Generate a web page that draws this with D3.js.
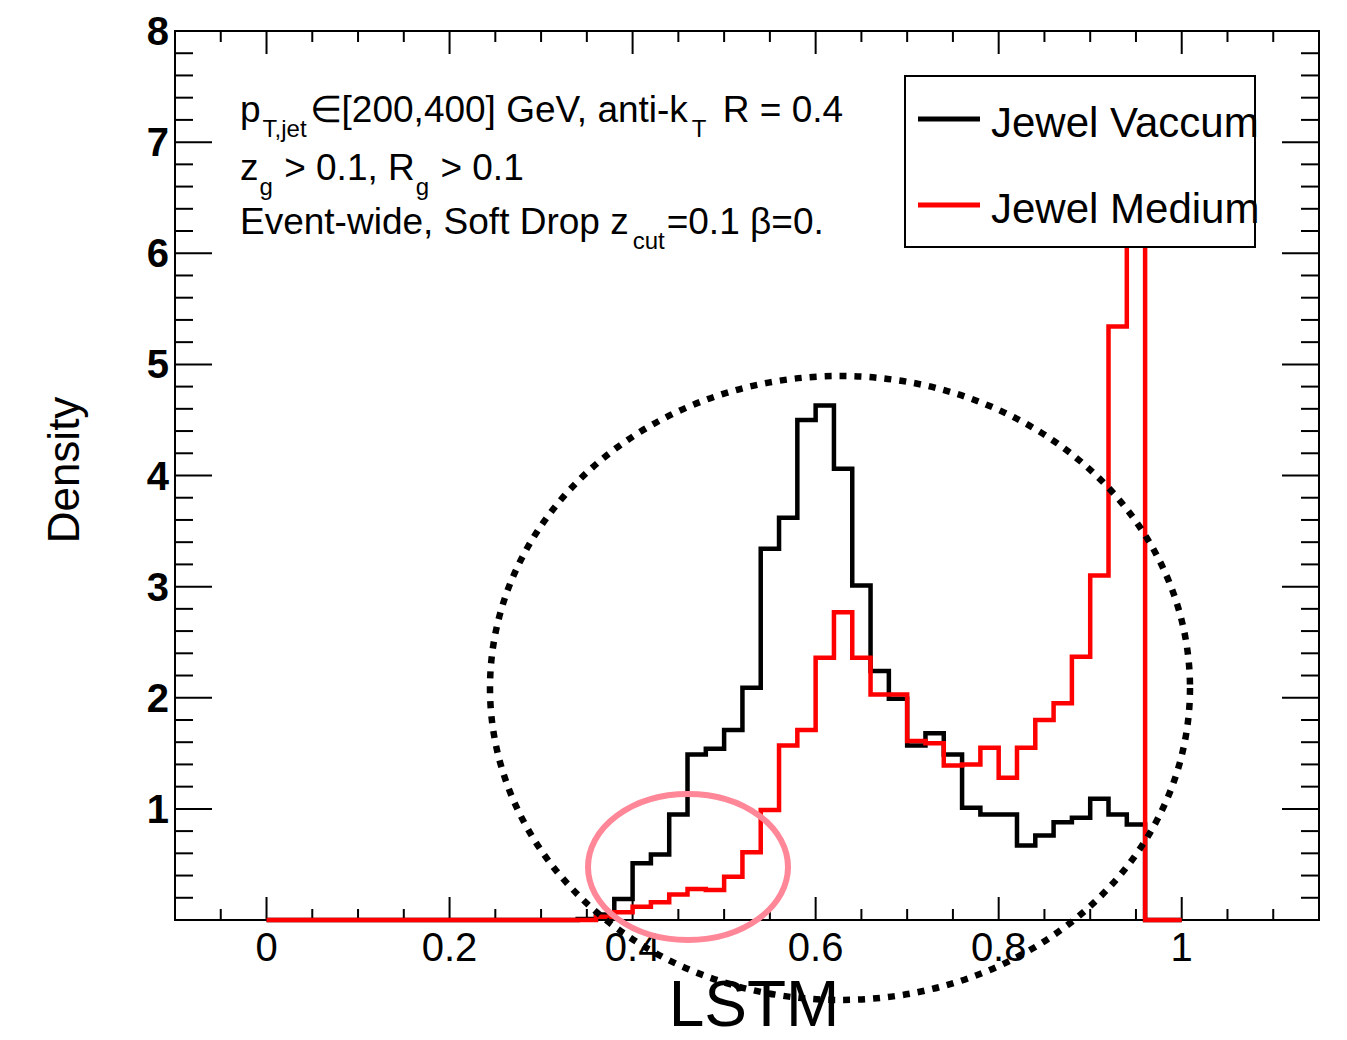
<!DOCTYPE html>
<html>
<head>
<meta charset="utf-8">
<script src="https://cdn.jsdelivr.net/npm/d3@7"></script>
<style>
  html, body { margin: 0; padding: 0; background: #fff; }
  svg { display: block; }
  text { font-family: "Liberation Sans", Arial, Helvetica, sans-serif; fill: #000; white-space: pre; }
</style>
</head>
<body>
<svg id="chart" width="1347" height="1040"></svg>
<script>
// LSTM output distributions, normalised to unit area (50 bins of width 0.02 on [0,1])
const binWidth = 0.02;
const binLow = d3.range(50).map(i => +(i * binWidth).toFixed(2));

const jewelVacuum = [
  0, 0, 0, 0, 0, 0, 0, 0, 0, 0,
  0, 0, 0, 0, 0, 0, 0, 0.01, 0.05, 0.19,
  0.51, 0.59, 0.95, 1.49, 1.54, 1.71, 2.09, 3.34, 3.62, 4.50,
  4.63, 4.06, 3.01, 2.24, 1.99, 1.57, 1.68, 1.49, 1.01, 0.95,
  0.95, 0.67, 0.76, 0.88, 0.92, 1.09, 0.95, 0.86, 0, 0
];

const jewelMedium = [
  0, 0, 0, 0, 0, 0, 0, 0, 0, 0,
  0, 0, 0, 0, 0, 0, 0, 0, 0.03, 0.07,
  0.12, 0.16, 0.23, 0.28, 0.27, 0.39, 0.61, 0.99, 1.57, 1.71,
  2.36, 2.77, 2.36, 2.03, 2.03, 1.61, 1.59, 1.39, 1.40, 1.55,
  1.28, 1.55, 1.80, 1.95, 2.37, 3.10, 5.34, 7.20, 0, 0
];

const xTickValues = [0, 0.2, 0.4, 0.6, 0.8, 1];
const xTickLabels = ["0", "0.2", "0.4", "0.6", "0.8", "1"];
const yTickValues = [1, 2, 3, 4, 5, 6, 7, 8];
const yTickLabels = ["1", "2", "3", "4", "5", "6", "7", "8"];

const seriesNames = ["Jewel Vaccum", "Jewel Medium"];
const seriesColors = ["#000000", "#ff0000"];

// ---- frame geometry ----
const frame = { left: 175, right: 1319, top: 31, bottom: 920 };
const svg = d3.select("#chart");

const x = d3.scaleLinear().domain([-0.1, 1.15]).range([frame.left, frame.right]);
const y = d3.scaleLinear().domain([0, 8]).range([frame.bottom, frame.top]);

const xMinor = d3.range(-0.1, 1.1501, 0.05).map(v => +v.toFixed(2));
const yMinor = d3.range(0, 8.001, 0.2).map(v => +v.toFixed(2));

// ---- axes: ticks on all four sides, pointing inward ----
const axisLayer = svg.append("g").attr("stroke", "#000").attr("stroke-width", 2);

function isMajorX(v) { return xTickValues.some(t => Math.abs(t - v) < 1e-6); }
function isMajorY(v) { return Math.abs(v - Math.round(v)) < 1e-6; }

xMinor.forEach(v => {
  const len = isMajorX(v) ? 23 : 11;
  const px = x(v);
  axisLayer.append("line").attr("x1", px).attr("x2", px)
    .attr("y1", frame.bottom).attr("y2", frame.bottom - len);
  axisLayer.append("line").attr("x1", px).attr("x2", px)
    .attr("y1", frame.top).attr("y2", frame.top + len);
});
yMinor.forEach(v => {
  const len = isMajorY(v) ? 37 : 18;
  const py = y(v);
  axisLayer.append("line").attr("y1", py).attr("y2", py)
    .attr("x1", frame.left).attr("x2", frame.left + len);
  axisLayer.append("line").attr("y1", py).attr("y2", py)
    .attr("x1", frame.right).attr("x2", frame.right - len);
});

axisLayer.append("rect")
  .attr("x", frame.left).attr("y", frame.top)
  .attr("width", frame.right - frame.left)
  .attr("height", frame.bottom - frame.top)
  .attr("fill", "none");

// ---- histograms (step outline), drawn over the frame edge ----
function stepPoints(values) {
  const pts = binLow.map((lo, i) => [lo, values[i]]);
  pts.push([1, values[values.length - 1]]);
  return pts;
}
const stepLine = d3.line()
  .x(d => x(d[0]))
  .y(d => y(d[1]))
  .curve(d3.curveStepAfter);

const histLayer = svg.append("g");
[jewelVacuum, jewelMedium].forEach((vals, i) => {
  histLayer.append("path")
    .attr("d", stepLine(stepPoints(vals)))
    .attr("fill", "none")
    .attr("stroke", seriesColors[i])
    .attr("stroke-width", 4.5)
    .attr("stroke-linejoin", "miter");
});

// tick labels
svg.append("g").selectAll("text")
  .data(xTickValues)
  .join("text")
  .attr("x", d => x(d))
  .attr("y", 961)
  .attr("text-anchor", "middle")
  .attr("font-size", 40)
  .text((d, i) => xTickLabels[i]);

svg.append("g").selectAll("text")
  .data(yTickValues)
  .join("text")
  .attr("x", 169)
  .attr("y", d => y(d) + 14)
  .attr("text-anchor", "end")
  .attr("font-size", 40)
  .attr("font-weight", "bold")
  .text((d, i) => yTickLabels[i]);

// axis titles
svg.append("text")
  .attr("x", 754).attr("y", 1026)
  .attr("text-anchor", "middle")
  .attr("font-size", 64)
  .text("LSTM");

svg.append("text")
  .attr("transform", "translate(79,470) rotate(-90)")
  .attr("text-anchor", "middle")
  .attr("font-size", 44)
  .text("Density");

// ---- selection text ----
function latexLine(parts, x0, y0) {
  const t = svg.append("text").attr("x", x0).attr("y", y0).attr("font-size", 37);
  let shift = 0;
  parts.forEach(p => {
    const s = t.append("tspan").text(p.t);
    const target = p.sub ? 15 : 0;
    s.attr("dy", target - shift);
    shift = target;
    if (p.sub) s.attr("font-size", 24);
    if (p.dx) s.attr("dx", p.dx);
  });
}
latexLine([
  { t: "p" }, { t: "T,jet", sub: true, dx: 2 }, { t: "∈[200,400] GeV, anti-k", dx: 3 },
  { t: "T", sub: true, dx: 4 }, { t: " R = 0.4", dx: 6 }
], 240, 122);
latexLine([
  { t: "z" }, { t: "g", sub: true, dx: 1 }, { t: " > 0.1, R", dx: 1 }, { t: "g", sub: true, dx: 1 }, { t: " > 0.1", dx: 1 }
], 240, 180);
latexLine([
  { t: "Event-wide, Soft Drop z" }, { t: "cut", sub: true, dx: 4 }, { t: "=0.1 β=0.", dx: 2 }
], 240, 234);

// ---- legend ----
const legend = svg.append("g");
legend.append("rect")
  .attr("x", 905).attr("y", 76).attr("width", 350).attr("height", 171)
  .attr("fill", "#fff").attr("stroke", "#000").attr("stroke-width", 2);
seriesNames.forEach((name, i) => {
  const cy = 119 + i * 86;
  legend.append("line")
    .attr("x1", 918).attr("x2", 980).attr("y1", cy).attr("y2", cy)
    .attr("stroke", seriesColors[i]).attr("stroke-width", 5);
  legend.append("text")
    .attr("x", 991).attr("y", cy + 18)
    .attr("font-size", 42)
    .text(name);
});

// ---- highlighted regions ----
svg.append("ellipse")
  .attr("cx", 840).attr("cy", 688).attr("rx", 350).attr("ry", 312)
  .attr("fill", "none").attr("stroke", "#000")
  .attr("stroke-width", 6.5).attr("stroke-dasharray", "7 8");

svg.append("ellipse")
  .attr("cx", 688).attr("cy", 867).attr("rx", 100).attr("ry", 73)
  .attr("fill", "none").attr("stroke", "#ff8797")
  .attr("stroke-width", 6);
</script>
</body>
</html>
